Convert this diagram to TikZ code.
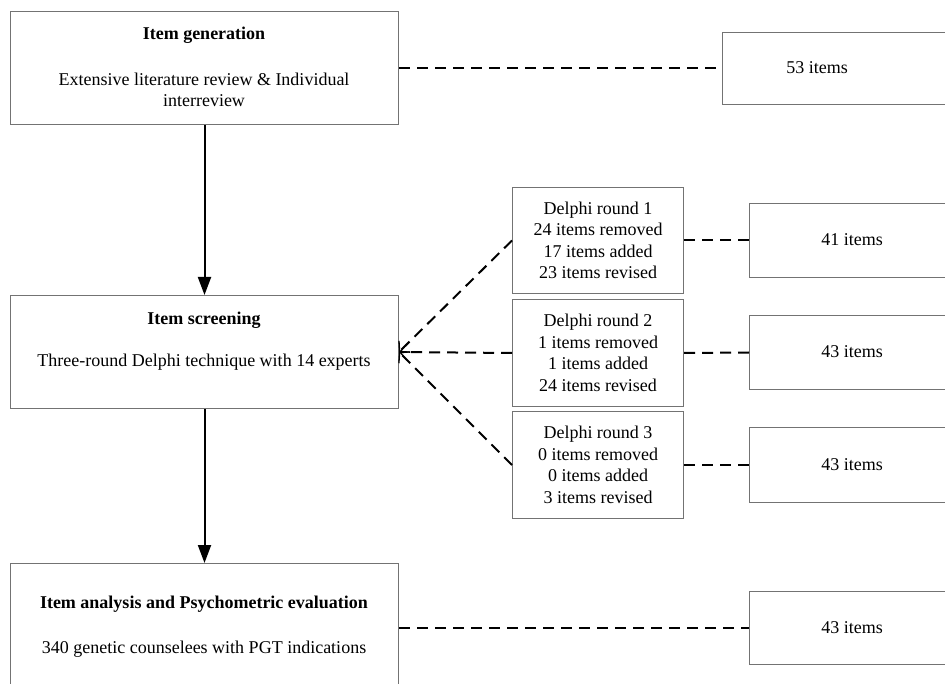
\documentclass[tikz,border=0pt]{standalone}
\usepackage{fontspec}
\setmainfont{Liberation Serif}
\usetikzlibrary{arrows.meta}
\begin{document}
\begin{tikzpicture}[x=1pt,y=-1pt,
  box/.style={draw=black!55, line width=1pt, rectangle, inner sep=0pt, anchor=north west},
  txt/.style={font=\fontsize{18}{21.5}\selectfont, align=center, inner sep=0pt},
  dashline/.style={draw=black, line width=2pt, dash pattern=on 11pt off 7pt},
  solidarrow/.style={draw=black, line width=2pt, -{Triangle[length=18pt,width=13pt]}},
  barb/.style={-{Straight Barb[length=7pt,width=16pt,line width=1.3pt]}}
]
\useasboundingbox (0,0) rectangle (945,684);
\clip (0,0) rectangle (945,684);
\fill[white] (0,0) rectangle (945,684);

% left boxes
\node[box, minimum width=388pt, minimum height=113pt] (gen) at (10,11) {};
\node[box, minimum width=388pt, minimum height=113pt] (scr) at (10,295) {};
\node[box, minimum width=388pt, minimum height=140pt] (ana) at (10,563) {};

\node[txt] (genT) at (204,35) {\bfseries Item generation};
\node[txt] (genS) at (204,90) {Extensive literature review \& Individual\\interreview};
\node[txt] (scrT) at (204,320) {\bfseries Item screening};
\node[txt] (scrS) at (204,362) {Three-round Delphi technique with 14 experts};
\node[txt] (anaT) at (204,604) {\bfseries Item analysis and Psychometric evaluation};
\node[txt] (anaS) at (204,649) {340 genetic counselees with PGT indications};

% Delphi boxes
\node[box, minimum width=171pt, minimum height=106pt] (d1) at (512,187) {};
\node[box, minimum width=171pt, minimum height=107pt] (d2) at (512,299) {};
\node[box, minimum width=171pt, minimum height=107pt] (d3) at (512,411) {};
\node[txt] (d1T) at (d1.center) {Delphi round 1\\24 items removed\\17 items added\\23 items revised};
\node[txt] (d2T) at (d2.center) {Delphi round 2\\1 items removed\\1 items added\\24 items revised};
\node[txt] (d3T) at (d3.center) {Delphi round 3\\0 items removed\\0 items added\\3 items revised};

% right boxes
\node[box, minimum width=240pt, minimum height=72pt] (r0) at (722,32) {};
\node[box, minimum width=211pt, minimum height=74pt] (r1) at (749,203) {};
\node[box, minimum width=211pt, minimum height=74pt] (r2) at (749,315) {};
\node[box, minimum width=211pt, minimum height=75pt] (r3) at (749,427) {};
\node[box, minimum width=211pt, minimum height=73pt] (r4) at (749,591) {};
\node[txt] (r0T) at (817,68) {53 items};
\node[txt] (r1T) at (852,240) {41 items};
\node[txt] (r2T) at (852,352) {43 items};
\node[txt] (r3T) at (852,465) {43 items};
\node[txt] (r4T) at (852,628) {43 items};

% solid arrows
\draw[solidarrow] (gen.south) -- (scr.north);
\draw[solidarrow] (scr.south) -- (ana.north);

% dashed connectors
\draw[dashline] (r0.west -| gen.east) -- (r0.west);
\draw[dashline] (d1.east) -- (r1.west);
\draw[dashline] (d2.east) -- (r2.west);
\draw[dashline] (d3.east) -- (r3.west);
\draw[dashline] (r4.west -| ana.east) -- (r4.west);

\draw[dashline, barb] (d1.west) -- (scr.east);
\draw[dashline, barb] (d2.west) -- (scr.east);
\draw[dashline, barb] (d3.west) -- (scr.east);
\end{tikzpicture}
\end{document}
